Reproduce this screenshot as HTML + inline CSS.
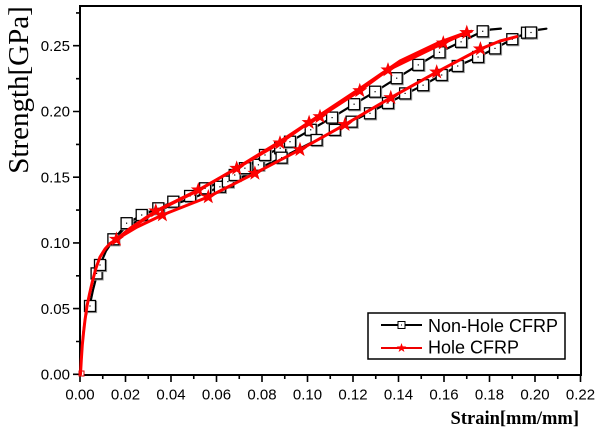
<!DOCTYPE html>
<html><head><meta charset="utf-8"><style>
html,body{margin:0;padding:0;background:#fff;}
svg{display:block;}
</style></head><body>
<svg width="600" height="432" viewBox="0 0 600 432" xmlns="http://www.w3.org/2000/svg">
<defs>
<marker id="msq" markerUnits="userSpaceOnUse" markerWidth="16" markerHeight="16" refX="8" refY="8" overflow="visible">
<rect x="3.5" y="3.5" width="11" height="11" fill="none" stroke="#999" stroke-width="1.2"/>
<rect x="2.5" y="2.5" width="11" height="11" fill="#fff" stroke="#000" stroke-width="1.3"/>
<rect x="7.4" y="7.4" width="1.2" height="1.2" fill="#000"/>
</marker>
<marker id="mst" markerUnits="userSpaceOnUse" markerWidth="16" markerHeight="16" refX="8" refY="8" overflow="visible">
<polygon transform="translate(8,8)" points="0,-7 1.646,-2.265 6.657,-2.163 2.663,0.865 4.114,5.663 0,2.8 -4.114,5.663 -2.663,0.865 -6.657,-2.163 -1.646,-2.265" fill="#f00" stroke="#e00" stroke-width="0.6"/>
</marker>
</defs>
<rect x="80" y="6" width="501" height="369" fill="none" stroke="#000" stroke-width="2"/>
<path stroke="#000" stroke-width="1.6" fill="none" d="M73 374.3H80M76 341.5H80M73 308.6H80M76 275.8H80M73 242.9H80M76 210.1H80M73 177.2H80M76 144.4H80M73 111.5H80M76 78.7H80M73 45.7H80M76 12.9H80"/>
<path stroke="#000" stroke-width="1.6" fill="none" d="M80 375V382M102.75 375V379M125.5 375V382M148.25 375V379M171 375V382M193.75 375V379M216.5 375V382M239.25 375V379M262 375V382M284.75 375V379M307.5 375V382M330.25 375V379M353 375V382M375.75 375V379M398.5 375V382M421.25 375V379M444 375V382M466.75 375V379M489.5 375V382M512.25 375V379M535 375V382M557.75 375V379M580.5 375V382"/>
<g font-family="'Liberation Sans', Arial, sans-serif" font-size="15" fill="#000" text-anchor="end">
<text x="70" y="379.5">0.00</text>
<text x="70" y="313.8">0.05</text>
<text x="70" y="248.1">0.10</text>
<text x="70" y="182.4">0.15</text>
<text x="70" y="116.7">0.20</text>
<text x="70" y="50.9">0.25</text>
</g>
<g font-family="'Liberation Sans', Arial, sans-serif" font-size="15" fill="#000" text-anchor="middle">
<text x="80" y="399.5">0.00</text>
<text x="125.5" y="399.5">0.02</text>
<text x="171" y="399.5">0.04</text>
<text x="216.5" y="399.5">0.06</text>
<text x="262" y="399.5">0.08</text>
<text x="307.5" y="399.5">0.10</text>
<text x="353" y="399.5">0.12</text>
<text x="398.5" y="399.5">0.14</text>
<text x="444" y="399.5">0.16</text>
<text x="489.5" y="399.5">0.18</text>
<text x="535" y="399.5">0.20</text>
<text x="580.5" y="399.5">0.22</text>
</g>
<text x="579" y="424" text-anchor="end" font-family="'Liberation Serif', 'Times New Roman', serif" font-weight="bold" font-size="18.5">Strain[mm/mm]</text>
<text transform="translate(28,90) rotate(-90)" text-anchor="middle" font-family="'Liberation Serif', 'Times New Roman', serif" font-size="29">Strength[GPa]</text>
<g fill="none" stroke="#000" stroke-width="2.2" stroke-linejoin="round" stroke-linecap="round">
<polyline points="80.3,374.3 81.2,358 82.3,343 83.6,330 85.2,318 87.5,310 90,304 93,290 96.6,276 100,265 106,251 113.4,240 126.6,224 141.7,215 158.3,208.3 173.3,201.7 190.1,196 205.1,188.3 219.9,182.4 234.7,175 244.9,168.2 265,155 280.2,148.2 290,141.7 310.7,129.8 332.1,117.6 354.1,104.2 375.1,91.7 396.7,78.2 418.3,64.9 439.5,52.3 461.1,41.8 482.7,31.3 491,29.5 500.9,28.6"/>
<polyline points="113.4,240 125.5,227.1 148.3,215.3 171,205.4 193.8,197.6 216.5,188.4 239.3,178.5 258.4,168.6 281.6,157.7 316.6,140 351.6,121.7 388,103 423.1,85.2 457.7,66 478.1,57 495,48.4 512.3,39.2 527,32.7 537,30 546.4,28.7"/>
</g>
<polyline fill="none" stroke="none" marker-start="url(#msq)" marker-mid="url(#msq)" marker-end="url(#msq)" points="90,306 96.6,273.4 100,265 113.4,239.3 126.6,223.2 141.7,215 158.3,208.3 173.3,201.7 190.1,196 205.1,188.3 219.9,186.8 227.9,181.6 234.7,175 244.9,168.2 258.4,164.8 265,155 280.2,148.2 290,141.7 310.7,129.8 332.1,117.6 354.1,104.2 375.1,91.7 396.7,78.2 418.3,64.9 439.5,52.3 461.1,41.8 482.7,31.3"/>
<polyline fill="none" stroke="none" marker-start="url(#msq)" marker-mid="url(#msq)" marker-end="url(#msq)" points="281.6,157.7 316.6,140 334.8,129.9 351.6,121.7 370,113.3 388,103 405.1,93.4 423.1,85.2 441.7,75 457.7,66 478.1,57 495,48.4 512.3,39.2 527,32.7 531,32.5"/>
<rect x="79" y="371" width="5" height="5" fill="#fff" stroke="#d00" stroke-width="1"/>
<g fill="none" stroke="#f00" stroke-width="3" stroke-linejoin="round" stroke-linecap="round">
<polyline points="80.5,374 81.3,360 82.3,345 83.5,333 85,320 87,306 89.5,294 92.5,281 96,268 100,257 105,249 110,243.5 116.4,239.3 130,228.4 155.8,211 198.3,190 236.7,168.3 280,143 309.1,122.6 320,116.7 359.8,90.7 388,70 443.3,43.1 466.8,32.6 471.3,31.3"/>
<polyline points="116.4,239.3 130,229 155.8,211.5 198.3,190.5 236.7,168 280,141.5 320,115 360,88.5 400,61 440,42 462,34 470,31.5"/>
<polyline points="116.4,239.3 136.9,227.1 162.4,215 208.3,196.9 254.9,173.3 300,149.7 345,124.6 390.8,97.7 436.7,72.1 480.4,49 500,41 516.8,36.6"/>
</g>
<polyline fill="none" stroke="none" marker-start="url(#mst)" marker-mid="url(#mst)" marker-end="url(#mst)" points="116.4,239.3 155.8,211 198.3,190 236.7,168.3 280,143 309.1,122.6 320,116.7 359.8,90.7 388,70 443.3,43.1 466.8,32.6"/>
<polyline fill="none" stroke="none" marker-start="url(#mst)" marker-mid="url(#mst)" marker-end="url(#mst)" points="162.4,215 208.3,196.9 254.9,173.3 300,149.7 345,124.6 390.8,97.7 436.7,72.1 480.4,49"/>
<rect x="368" y="313" width="197" height="46" fill="#fff" stroke="#000" stroke-width="1.5"/>
<line x1="381" y1="325" x2="422" y2="325" stroke="#000" stroke-width="2"/>
<rect x="398" y="321.5" width="7" height="7" fill="#fff" stroke="#000" stroke-width="1"/>
<rect x="401" y="324.5" width="1" height="1" fill="#000"/>
<line x1="381" y1="348" x2="422" y2="348" stroke="#e00" stroke-width="2"/>
<polygon transform="translate(401.5,348)" points="0,-5 1.18,-1.62 4.76,-1.55 1.9,0.62 2.94,4.05 0,2 -2.94,4.05 -1.9,0.62 -4.76,-1.55 -1.18,-1.62" fill="#f00"/>
<g font-family="'Liberation Sans', Arial, sans-serif" font-size="18" fill="#000">
<text x="428" y="332">Non-Hole CFRP</text>
<text x="428" y="353.5">Hole CFRP</text>
</g>
</svg>
</body></html>
